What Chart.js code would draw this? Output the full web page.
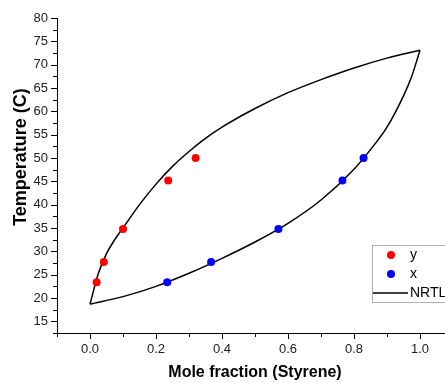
<!DOCTYPE html>
<html>
<head>
<meta charset="utf-8">
<script src="https://cdn.jsdelivr.net/npm/chart.js@4"></script>
<style>
  body { margin: 0; overflow: hidden; background: #fff; }
  canvas { display: block; }
</style>
</head>
<body>
<canvas id="vleChart" width="470" height="383"></canvas>
<script>
// experimental VLE points (temperature in C)
const tempExp = [23.4, 27.7, 34.8, 45.2, 50.0];
const vapourY = [0.020, 0.042, 0.100, 0.237, 0.320];
const liquidX = [0.234, 0.367, 0.571, 0.765, 0.829];

// NRTL model curves
const bubbleX = [0, 0.1, 0.2, 0.3, 0.4, 0.5, 0.6, 0.7, 0.8, 0.85, 0.9, 0.95, 0.975, 1.0];
const bubbleT = [18.7, 20.3, 22.5, 25.3, 28.5, 32.0, 36.0, 41.0, 47.6, 51.8, 56.6, 63.3, 67.5, 73.1];
const dewY = [0, 0.025, 0.05, 0.075, 0.1, 0.15, 0.2, 0.25, 0.3, 0.35, 0.4, 0.5, 0.6, 0.7, 0.8, 0.9, 1.0];
const dewT = [18.7, 25.2, 29.5, 32.5, 35.0, 40.0, 44.4, 48.2, 51.4, 54.2, 56.6, 60.6, 64.0, 66.8, 69.3, 71.4, 73.1];

const xTicks = [-0.1, 0, 0.1, 0.2, 0.3, 0.4, 0.5, 0.6, 0.7, 0.8, 0.9, 1.0, 1.1];
const yTicks = [12.5, 15, 17.5, 20, 22.5, 25, 27.5, 30, 32.5, 35, 37.5, 40, 42.5, 45, 47.5, 50, 52.5, 55, 57.5, 60, 62.5, 65, 67.5, 70, 72.5, 75, 77.5, 80];

const FONT = "'Liberation Sans', Arial, sans-serif";

function pts(xs, ys) {
  return xs.map((x, i) => ({ x: x, y: ys[i] }));
}

// major ticks carry labels, minor ticks are shorter
const axisTicks = {
  id: 'axisTicks',
  afterDraw(chart) {
    const ctx = chart.ctx;
    const xs = chart.scales.x, ys = chart.scales.y;
    const area = chart.chartArea;
    ctx.save();
    ctx.strokeStyle = '#000';
    ctx.lineWidth = 1;
    ctx.beginPath();
    xTicks.forEach(v => {
      const px = Math.round(xs.getPixelForValue(v)) + 0.5;
      const major = Math.round(v * 10) % 2 === 0;
      ctx.moveTo(px, area.bottom);
      ctx.lineTo(px, area.bottom + (major ? 6 : 4));
    });
    yTicks.forEach(v => {
      const py = Math.round(ys.getPixelForValue(v)) + 0.5;
      const major = v % 5 === 0;
      ctx.moveTo(area.left, py);
      ctx.lineTo(area.left - (major ? 6 : 4), py);
    });
    ctx.stroke();

    // axis titles
    ctx.fillStyle = '#000';
    ctx.textAlign = 'center';
    ctx.textBaseline = 'middle';
    ctx.font = 'bold 16px ' + FONT;
    ctx.fillText('Mole fraction (Styrene)', (area.left + area.right) / 2, 373);
    ctx.translate(21, 157);
    ctx.rotate(-Math.PI / 2);
    ctx.font = 'bold 18px ' + FONT;
    ctx.fillText('Temperature (C)', 0, 0);
    ctx.restore();
  }
};

// legend box inside the plot, lower right
const boxLegend = {
  id: 'boxLegend',
  afterDraw(chart) {
    const ctx = chart.ctx;
    const sets = chart.data.datasets.filter(d => !d.hideInLegend);
    const left = 372, top = 245, rowH = 19;
    ctx.save();
    ctx.strokeStyle = '#b0b0b0';
    ctx.lineWidth = 1;
    ctx.strokeRect(left + 0.5, top + 0.5, 100, 57);
    ctx.font = '14px ' + FONT;
    ctx.textBaseline = 'middle';
    ctx.textAlign = 'left';
    sets.forEach((d, i) => {
      const cy = top + 10 + i * rowH;
      if (d.showLine) {
        ctx.strokeStyle = d.borderColor;
        ctx.lineWidth = 1.5;
        ctx.beginPath();
        ctx.moveTo(left + 1, cy);
        ctx.lineTo(left + 36, cy);
        ctx.stroke();
      } else {
        ctx.fillStyle = d.backgroundColor;
        ctx.beginPath();
        ctx.arc(left + 19, cy, 4, 0, Math.PI * 2);
        ctx.fill();
      }
      ctx.fillStyle = '#000';
      ctx.fillText(d.label, left + 38, cy);
    });
    ctx.restore();
  }
};

const lineStyle = {
  showLine: true,
  borderColor: '#000',
  borderWidth: 1.5,
  pointRadius: 0,
  pointHoverRadius: 0,
  cubicInterpolationMode: 'monotone',
  fill: false
};

new Chart(document.getElementById('vleChart'), {
  type: 'scatter',
  data: {
    datasets: [
      { label: 'y', data: pts(vapourY, tempExp), backgroundColor: '#ff0000', borderWidth: 0, pointRadius: 4 },
      { label: 'x', data: pts(liquidX, tempExp), backgroundColor: '#0000ff', borderWidth: 0, pointRadius: 4 },
      Object.assign({ label: 'NRTL', data: pts(bubbleX, bubbleT) }, lineStyle),
      Object.assign({ label: 'NRTL', data: pts(dewY, dewT), hideInLegend: true }, lineStyle)
    ]
  },
  options: {
    responsive: false,
    animation: false,
    devicePixelRatio: 1,
    layout: { padding: { left: 0, top: 18, right: 17, bottom: 0 } },
    plugins: {
      legend: { display: false },
      tooltip: { enabled: false }
    },
    scales: {
      x: {
        type: 'linear',
        min: -0.1,
        max: 1.1,
        afterFit: s => { s.height = 50; },
        afterBuildTicks: s => { s.ticks = xTicks.filter(v => Math.round(v * 10) % 2 === 0 && v >= 0 && v <= 1).map(v => ({ value: v })); },
        ticks: {
          padding: 3,
          color: '#222',
          font: { family: FONT, size: 13 },
          callback: v => v.toFixed(1)
        },
        grid: { drawOnChartArea: false, drawTicks: true, tickLength: 6, tickColor: 'rgba(0,0,0,0)' },
        border: { display: true, color: '#000', width: 1 }
      },
      y: {
        type: 'linear',
        min: 12.5,
        max: 80,
        afterFit: s => { s.width = 57; },
        afterBuildTicks: s => { s.ticks = yTicks.filter(v => v % 5 === 0).map(v => ({ value: v })); },
        ticks: {
          padding: 3,
          color: '#222',
          font: { family: FONT, size: 13 },
          callback: v => String(v)
        },
        grid: { drawOnChartArea: false, drawTicks: true, tickLength: 6, tickColor: 'rgba(0,0,0,0)' },
        border: { display: true, color: '#000', width: 1 }
      }
    }
  },
  plugins: [axisTicks, boxLegend]
});
</script>
</body>
</html>
